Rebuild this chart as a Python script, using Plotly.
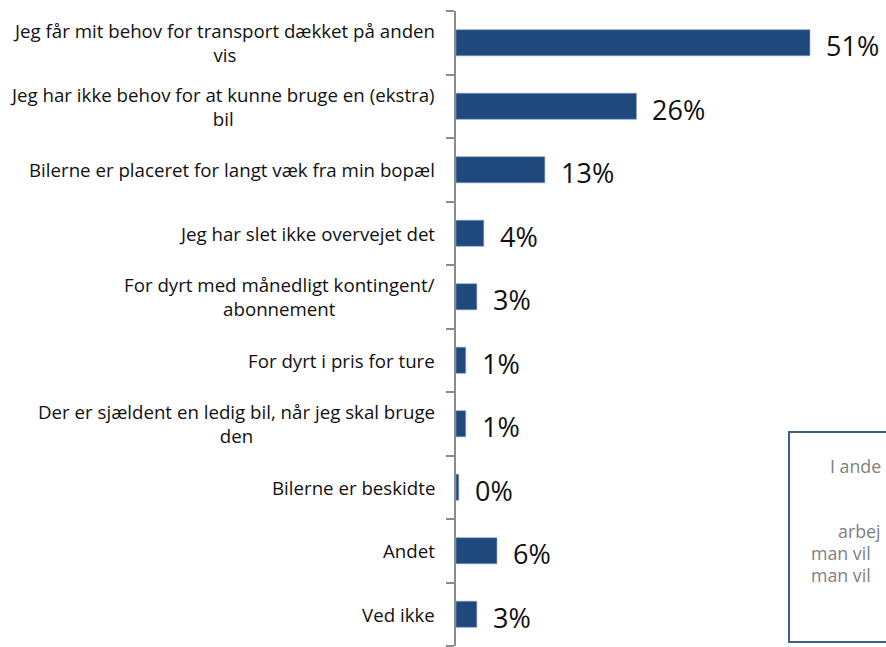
import plotly.graph_objects as go

categories = [
    "Jeg får mit behov for transport dækket på anden<br>vis",
    "Jeg har ikke behov for at kunne bruge en (ekstra)<br>bil",
    "Bilerne er placeret for langt væk fra min bopæl",
    "Jeg har slet ikke overvejet det",
    "For dyrt med månedligt kontingent/<br>abonnement",
    "For dyrt i pris for ture",
    "Der er sjældent en ledig bil, når jeg skal bruge<br>den",
    "Bilerne er beskidte",
    "Andet",
    "Ved ikke",
]
values = [51, 26, 12.8, 4, 3, 1.4, 1.4, 0.4, 5.9, 3]
value_labels = [f"{round(v)}%" for v in values]

box_lines = ["I ande", "arbej", "man vil", "man vil"]

W_FIG, H_FIG = 886, 647
L, T = 456, 11
R, B = 0, 1
PW, PH = W_FIG - L - R, H_FIG - T - B


def px_x(px):
    return (px - L) / PW


def px_y(py):
    return 1 - (py - T) / PH


ids = list(range(len(categories)))

fig = go.Figure()
fig.add_trace(go.Bar(
    x=values,
    y=ids,
    orientation="h",
    marker=dict(color="#1F497D", line=dict(color="#7F9CC4", width=0.6)),
    width=0.41,
    hoverinfo="skip",
))

annotations = []
for i, (cat, lab, v) in enumerate(zip(categories, value_labels, values)):
    annotations.append(dict(
        x=0, xref="paper", y=i, yref="y",
        text=cat, showarrow=False, xanchor="right", yanchor="middle",
        align="center", xshift=-19,
        font=dict(family="Open Sans", size=18.7, color="#111111"),
    ))
    annotations.append(dict(
        x=v, xref="x", y=i, yref="y",
        text=lab, showarrow=False, xanchor="left", yanchor="middle",
        xshift=14, yshift=-3,
        font=dict(family="Open Sans", size=27, color="#111111"),
    ))

# partially visible text box at bottom right
box_text_pos = [(828, 466), (836, 531), (809, 553), (809, 575)]
for t, (bx, by) in zip(box_lines, box_text_pos):
    annotations.append(dict(
        x=px_x(bx), xref="paper", y=px_y(by), yref="paper",
        text=t, showarrow=False, xanchor="left", yanchor="middle",
        font=dict(family="Open Sans", size=17.8, color="#7F7F7F"),
    ))

annotations.append(dict(
    x=px_x(54), xref="paper", y=px_y(639), yref="paper",
    text="B", showarrow=False, xanchor="left", yanchor="top",
    font=dict(family="Open Sans", size=17, color="#7F7F7F"),
))

fig.add_shape(
    type="rect", xref="paper", yref="paper",
    x0=px_x(789), x1=px_x(900), y0=px_y(642), y1=px_y(432),
    line=dict(color="#3A5F8C", width=2), fillcolor="rgba(0,0,0,0)",
    layer="above",
)

fig.update_layout(
    width=W_FIG, height=H_FIG,
    margin=dict(l=L, r=R, t=T, b=B),
    paper_bgcolor="white", plot_bgcolor="white",
    showlegend=False,
    annotations=annotations,
    xaxis=dict(range=[0, PW / 6.94], visible=False, fixedrange=True),
    yaxis=dict(
        range=[len(categories) - 0.5, -0.5],
        showticklabels=False, showgrid=False, zeroline=False,
        showline=True, linecolor="#8C8C8C", linewidth=1.5,
        ticks="outside", ticklen=8, tickcolor="#8C8C8C", tickwidth=1.5,
        tickvals=[i - 0.5 for i in range(len(categories) + 1)],
        fixedrange=True,
    ),
)

fig.write_html(
    "out.html",
    config={"displayModeBar": False},
    post_script="document.body.style.margin='0';document.body.style.overflow='hidden';",
)
